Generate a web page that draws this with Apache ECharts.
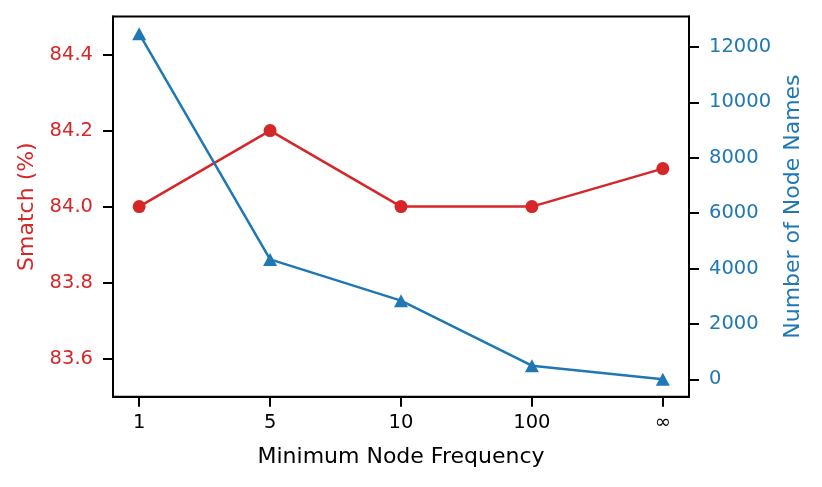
<!DOCTYPE html>
<html>
<head>
<meta charset="utf-8">
<script src="https://cdn.jsdelivr.net/npm/echarts@6/dist/echarts.min.js"></script>
<style>
html,body{margin:0;padding:0;background:#fff;}
#chart{width:822px;height:487px;}
</style>
</head>
<body>
<div id="chart"></div>
<script>
const categories = ['1', '5', '10', '100', '∞'];
const smatch = [84.0, 84.2, 84.0, 84.0, 84.1];
const nodeNames = [12480, 4330, 2840, 490, 0];
const smatchTicks = [83.6, 83.8, 84.0, 84.2, 84.4];
const nodeTicks = [0, 2000, 4000, 6000, 8000, 10000, 12000];

const RED = '#d62728';
const BLUE = '#1f77b4';
const FONT = 'DejaVu Sans';
const idx = categories.map((c, i) => i);

const chart = echarts.init(document.getElementById('chart'), null, {renderer: 'canvas'});
chart.setOption({
  animation: false,
  backgroundColor: '#fff',
  grid: {
    left: 113, right: 133, top: 16.5, bottom: 90.3,
    show: true, borderColor: '#000', borderWidth: 2, backgroundColor: 'transparent'
  },
  xAxis: {
    type: 'value',
    min: -0.2, max: 4.2,
    name: 'Minimum Node Frequency',
    nameLocation: 'middle',
    nameGap: 50,
    nameTextStyle: {fontFamily: FONT, fontSize: 22, color: '#000'},
    axisLine: {show: true, onZero: false, lineStyle: {color: '#000', width: 2}},
    axisTick: {show: true, customValues: idx, length: 10, lineStyle: {color: '#000', width: 2}},
    axisLabel: {
      customValues: idx, margin: 16,
      fontFamily: FONT, fontSize: 19.5, color: '#000',
      formatter: v => categories[Math.round(v)]
    },
    splitLine: {show: false}
  },
  yAxis: [
    {
      type: 'value', position: 'left',
      min: 83.5, max: 84.5,
      name: 'Smatch (%)',
      nameLocation: 'middle', nameRotate: 90, nameGap: 75,
      nameTextStyle: {fontFamily: FONT, fontSize: 22, color: RED},
      axisLine: {show: true, onZero: false, lineStyle: {color: '#000', width: 2}},
      axisTick: {show: true, customValues: smatchTicks, length: 10, lineStyle: {color: '#000', width: 2}},
      axisLabel: {
        customValues: smatchTicks, margin: 20,
        fontFamily: FONT, fontSize: 19.5, color: RED,
        formatter: v => Number(v).toFixed(1)
      },
      splitLine: {show: false}
    },
    {
      type: 'value', position: 'right',
      min: -628, max: 13101,
      name: 'Number of Node Names',
      nameLocation: 'middle', nameRotate: 90, nameGap: 93,
      nameTextStyle: {fontFamily: FONT, fontSize: 22, color: BLUE},
      axisLine: {show: true, onZero: false, lineStyle: {color: '#000', width: 2}},
      axisTick: {show: true, customValues: nodeTicks, length: 10, lineStyle: {color: '#000', width: 2}},
      axisLabel: {
        customValues: nodeTicks, margin: 20,
        fontFamily: FONT, fontSize: 19.5, color: BLUE,
        formatter: v => String(Math.round(v))
      },
      splitLine: {show: false}
    }
  ],
  series: [
    {
      type: 'line', yAxisIndex: 0,
      data: smatch.map((v, i) => [i, v]),
      symbol: 'circle', symbolSize: 13,
      lineStyle: {color: RED, width: 2.5},
      itemStyle: {color: RED},
      z: 2
    },
    {
      type: 'line', yAxisIndex: 1,
      data: nodeNames.map((v, i) => [i, v]),
      symbol: 'triangle', symbolSize: [14, 13],
      lineStyle: {color: BLUE, width: 2.5},
      itemStyle: {color: BLUE},
      z: 3
    }
  ]
});
</script>
</body>
</html>
